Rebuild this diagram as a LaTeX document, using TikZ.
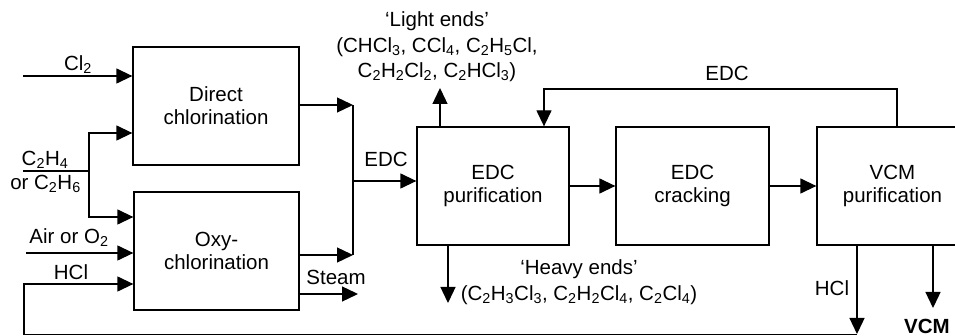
\documentclass[tikz,border=0pt]{standalone}
\usepackage{fontspec}
\setmainfont{Liberation Sans}
\usetikzlibrary{arrows.meta}
\newcommand{\sub}[1]{\textsubscript{#1}}
\begin{document}
\begin{tikzpicture}[x=1pt,y=-1pt,
  every node/.style={font=\fontsize{20.5}{23}\selectfont},
  box/.style={draw,line width=1.3pt,minimum height=118pt,align=center,inner sep=0pt},
  lbl/.style={inner sep=0pt,align=center},
  arr/.style={-{Triangle[length=16pt,width=15pt]}},
  line/.style={line width=1.3pt}]
\useasboundingbox (0,0) rectangle (955,336);
% boxes
\node[box,minimum width=166pt] (dc) at (216,106) {Direct\\chlorination};
\node[box,minimum width=165pt] (oc) at (216.5,251) {Oxy-\\chlorination};
\node[box,minimum width=152pt] (ep) at (493,186) {EDC\\purification};
\node[box,minimum width=153pt] (ec) at (692.5,186) {EDC\\cracking};
\node[box,minimum width=151pt] (vp) at (892.5,186) {VCM\\purification};
% coordinates
\coordinate (cl2in) at (23,76);
\coordinate (c2in) at (23,171);
\coordinate (j1) at (89,171);
\coordinate (jt) at (89,133);
\coordinate (jb) at (89,217);
\coordinate (airin) at (26,253);
\coordinate (m1) at (353,105);
\coordinate (m2) at (353,255);
\coordinate (mE) at (353,181);
\coordinate (steam) at (358,294);
\coordinate (le) at (440,88);
\coordinate (r1) at (897,89);
\coordinate (r2) at (544,89);
\coordinate (he) at (448,303);
\coordinate (hb) at (857,334);
\coordinate (hl) at (24,334.6);
\coordinate (hr) at (857,334.6);
\coordinate (hu) at (24,284);
\coordinate (vo) at (933,308);
% connectors
\begin{scope}[line]
\draw[arr] (cl2in) -- (dc.west |- cl2in);
\draw (c2in) -- (j1);
\draw[arr] (j1) -- (jt) -- (dc.west |- jt);
\draw[arr] (j1) -- (jb) -- (oc.west |- jb);
\draw[arr] (airin) -- (oc.west |- airin);
\draw[arr] (dc.east |- m1) -- (m1);
\draw[arr] (oc.east |- m2) -- (m2);
\draw (m1) -- (m2);
\draw[arr] (mE) -- (ep.west |- mE);
\draw[arr] (oc.east |- steam) -- (steam);
\draw[arr] (ep.north -| le) -- (le);
\draw[arr] (vp.north -| r1) -- (r1) -- (r2) -- (ep.north -| r2);
\draw[arr] (ep.south -| he) -- (he);
\draw[arr] (ep) -- (ec);
\draw[arr] (ec) -- (vp);
\draw[arr] (vp.south -| hb) -- (hb);
\draw[arr] (hr) -- (hl) -- (hu) -- (oc.west |- hu);
\draw[arr] (vp.south -| vo) -- (vo);
\end{scope}
% labels
\node[lbl] (tcl2) at (78,65) {Cl\sub{2}};
\node[lbl] (tc2h4) at (45,160) {C\sub{2}H\sub{4}};
\node[lbl] (tc2h6) at (45.5,184) {or C\sub{2}H\sub{6}};
\node[lbl] (tair) at (69,238) {Air or O\sub{2}};
\node[lbl] (thcl) at (71,272) {HCl};
\node[lbl] (tedc) at (386,159) {EDC};
\node[lbl] (tsteam) at (336,277) {Steam};
\node[lbl,font=\fontsize{20.5}{25.5}\selectfont] (tle) at (437,47) {`Light ends'\\(CHCl\sub{3}, CCl\sub{4}, C\sub{2}H\sub{5}Cl,\\C\sub{2}H\sub{2}Cl\sub{2}, C\sub{2}HCl\sub{3})};
\node[lbl] (tedc2) at (727,73) {EDC};
\node[lbl,font=\fontsize{20.5}{25.5}\selectfont] (the) at (579,282) {`Heavy ends'\\(C\sub{2}H\sub{3}Cl\sub{3}, C\sub{2}H\sub{2}Cl\sub{4}, C\sub{2}Cl\sub{4})};
\node[lbl] (thcl2) at (832,288) {HCl};
\node[lbl,font=\fontsize{20.5}{23}\selectfont\bfseries] (tvcm) at (927,326.5) {VCM};
\end{tikzpicture}
\end{document}
